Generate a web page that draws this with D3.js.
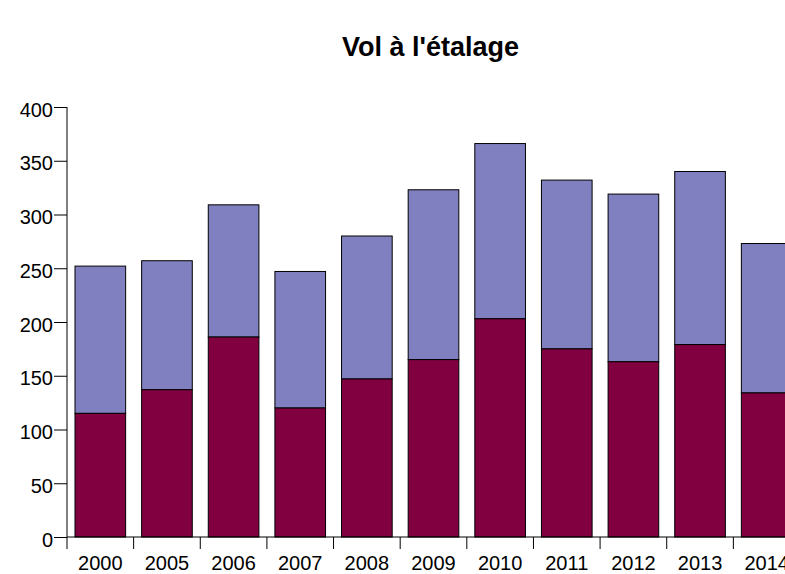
<!DOCTYPE html>
<html><head><meta charset="utf-8">
<script src="https://cdn.jsdelivr.net/npm/d3@7"></script>
<style>body{margin:0;background:#fff;} svg{display:block;font-family:"Liberation Sans",Arial,sans-serif;}</style>
</head><body>
<svg id="chart" width="785" height="574"></svg>
<script>
const categories = ["2000","2005","2006","2007","2008","2009","2010","2011","2012","2013","2014"];
const bottomValues = [115,137,186,120,147,165,203,175,163,179,134];
const totalValues = [252,257,309,247,280,323,366,332,319,340,273];
const yTicks = [0,50,100,150,200,250,300,350,400];
const title = "Vol à l'étalage";
const colors = {bottom:"#800040", top:"#8080C0"};

(function(){
const svg = d3.select("#chart");
const mL = 67, mR = 800, mT = 107, mB = 537;
const x = d3.scaleBand().domain(categories).range([mL, mR]).paddingInner(0.24).paddingOuter(0.12);
const y = d3.scaleLinear().domain([0,400]).range([mB, mT]);

const data = categories.map((c,i)=>({c, b:bottomValues[i], t:totalValues[i]}));

svg.append("g").selectAll("rect").data(data).join("rect")
  .attr("x", d=>x(d.c)).attr("width", x.bandwidth())
  .attr("y", d=>y(d.t)).attr("height", d=>y(d.b)-y(d.t))
  .attr("fill", colors.top).attr("stroke","#000").attr("stroke-width",1);
svg.append("g").selectAll("rect").data(data).join("rect")
  .attr("x", d=>x(d.c)).attr("width", x.bandwidth())
  .attr("y", d=>y(d.b)).attr("height", d=>y(0)-y(d.b))
  .attr("fill", colors.bottom).attr("stroke","#000").attr("stroke-width",1);

// y axis
const ya = svg.append("g").attr("transform",`translate(${mL},0)`)
  .call(d3.axisLeft(y).tickValues(yTicks).tickSize(13).tickPadding(1));
ya.select(".domain").attr("d", `M0,${mT}V${mB}`);
ya.selectAll("text").attr("font-size",20).attr("fill","#000").attr("dy","0.45em")
  .attr("font-family","Liberation Sans, Arial, sans-serif");

// x axis
const xa = svg.append("g").attr("transform",`translate(0,${mB})`);
xa.append("line").attr("x1",mL).attr("x2",mR).attr("y1",0).attr("y2",0).attr("stroke","#000");
const step = x.step();
const bounds = d3.range(categories.length+1).map(i=>mL + i*step);
xa.selectAll("line.t").data(bounds).join("line").attr("class","t")
  .attr("x1",d=>d).attr("x2",d=>d).attr("y1",0).attr("y2",12).attr("stroke","#000");
xa.selectAll("text").data(categories).join("text")
  .attr("x", d=>x(d)+x.bandwidth()/2).attr("y", 33)
  .attr("text-anchor","middle").attr("font-size",20).text(d=>d);

svg.append("text").attr("x",(mL+mR)/2 - 3).attr("y",56).attr("text-anchor","middle")
  .attr("font-size",27).attr("font-weight","bold").text(title);
})();
</script>
</body></html>
